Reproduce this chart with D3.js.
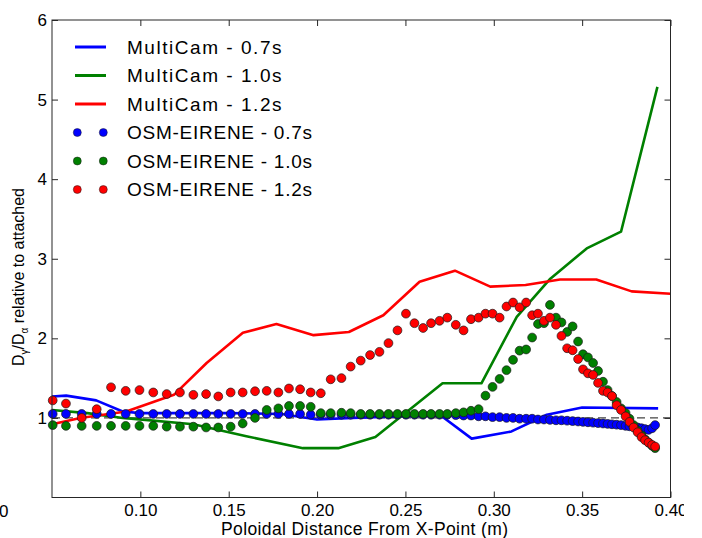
<!DOCTYPE html>
<html>
<head>
<meta charset="utf-8">
<script src="https://cdn.jsdelivr.net/npm/d3@7"></script>
<style>
  html, body { margin: 0; padding: 0; background: #fff; }
  svg { display: block; font-family: "Liberation Sans", Arial, Helvetica, sans-serif; }
</style>
</head>
<body>
<svg id="chart" width="702" height="538"></svg>
<script>
// ---------------- data ----------------
const xTicks = [0.10, 0.15, 0.20, 0.25, 0.30, 0.35, 0.40];
const yTicks = [1, 2, 3, 4, 5, 6];

const seriesNames = ["MultiCam - 0.7s", "MultiCam - 1.0s", "MultiCam - 1.2s",
                     "OSM-EIRENE - 0.7s", "OSM-EIRENE - 1.0s", "OSM-EIRENE - 1.2s"];

// MultiCam (lines)
const mc07X = [0.05, 0.058, 0.075, 0.09, 0.10, 0.15, 0.18, 0.20, 0.22, 0.25, 0.27, 0.2875, 0.31, 0.33, 0.35, 0.393];
const mc07Y = [1.27, 1.28, 1.22, 1.08, 1.06, 1.06, 1.05, 0.98, 1.00, 1.02, 1.03, 0.74, 0.83, 1.04, 1.13, 1.12];

const mc10X = [0.05, 0.07, 0.09, 0.13, 0.16, 0.192, 0.212, 0.233, 0.271, 0.293, 0.313, 0.332, 0.3526, 0.372, 0.3926];
const mc10Y = [1.10, 1.06, 1.00, 0.92, 0.77, 0.62, 0.62, 0.76, 1.435, 1.435, 2.27, 2.75, 3.13, 3.34, 5.16];

const mc12X = [0.05, 0.066, 0.092, 0.119, 0.1375, 0.158, 0.177, 0.198, 0.218, 0.2375, 0.258, 0.278, 0.298, 0.318, 0.3375, 0.358, 0.378, 0.40];
const mc12Y = [0.92, 1.00, 1.08, 1.29, 1.69, 2.07, 2.18, 2.04, 2.08, 2.29, 2.71, 2.85, 2.65, 2.67, 2.74, 2.74, 2.59, 2.56];

// OSM-EIRENE (markers), shared x grid
const osmX = [0.0504,0.0579,0.0668,0.0753,0.0834,0.0917,0.0995,0.1073,0.1149,0.1224,
              0.1300,0.1372,0.1441,0.1511,0.1579,0.1649,0.1715,0.1781,0.1841,0.1904,
              0.1964,0.2021,0.2077,0.2138,0.2190,0.2247,0.2300,0.2353,0.2404,0.2455,
              0.2503,0.2551,0.2600,0.2645,0.2693,0.2737,0.2785,0.2829,0.2871,0.2914,
              0.2953,0.2993,0.3033,0.3072,0.3109,0.3146,0.3183,0.3217,0.3250,0.3284,
              0.3318,0.3352,0.3383,0.3415,0.3446,0.3477,0.3505,0.3533,0.3562,0.3590,
              0.3618,0.3644,0.3669,0.3695,0.3720,0.3746,0.3768,0.3791,0.3814,0.3836,
              0.3856,0.3876,0.3896,0.3913];

const osm07Y = [1.05,1.05,1.05,1.05,1.05,1.05,1.05,1.05,1.05,1.05,
                1.05,1.05,1.05,1.05,1.05,1.05,1.05,1.05,1.05,1.05,
                1.04,1.04,1.04,1.04,1.04,1.04,1.04,1.04,1.04,1.04,
                1.04,1.04,1.04,1.04,1.04,1.04,1.035,1.03,1.03,1.02,
                1.02,1.01,1.01,1.00,1.00,0.99,0.99,0.99,0.98,0.98,
                0.975,0.97,0.97,0.965,0.96,0.955,0.95,0.945,0.94,0.935,
                0.93,0.925,0.92,0.915,0.91,0.90,0.895,0.89,0.88,0.87,
                0.86,0.85,0.87,0.91];

const osm10Y = [0.91,0.90,0.90,0.90,0.90,0.90,0.90,0.90,0.89,0.89,
                0.89,0.88,0.88,0.89,0.93,1.00,1.10,1.12,1.15,1.15,
                1.14,1.06,1.06,1.065,1.06,1.05,1.05,1.05,1.05,1.05,
                1.05,1.05,1.05,1.05,1.05,1.05,1.06,1.07,1.09,1.11,
                1.28,1.39,1.49,1.60,1.73,1.845,1.86,2.01,2.18,2.19,
                2.42,2.26,2.20,2.08,2.15,1.96,1.80,1.76,1.69,1.59,
                1.455,1.35,1.275,1.20,1.12,1.06,0.99,0.91,0.84,0.78,
                0.73,0.69,0.65,0.62];

const osm12Y = [1.22,1.18,1.00,1.11,1.385,1.34,1.35,1.32,1.30,1.32,
                1.29,1.30,1.27,1.32,1.32,1.335,1.34,1.32,1.37,1.36,
                1.32,1.31,1.485,1.50,1.645,1.72,1.79,1.83,1.94,2.10,
                2.31,2.19,2.13,2.19,2.22,2.26,2.17,2.10,2.24,2.26,
                2.31,2.31,2.26,2.40,2.45,2.39,2.45,2.29,2.31,2.22,
                2.26,2.17,2.03,1.875,1.85,1.74,1.61,1.56,1.54,1.44,
                1.34,1.32,1.275,1.16,1.10,1.02,0.95,0.88,0.82,0.76,
                0.72,0.69,0.66,0.64];

const refLevel = 1;

// ---------------- drawing ----------------
const colors = ["#0000ff", "#008000", "#ff0000"];
const svg = d3.select("#chart");
const L = 52, R = 670.5, T = 20, B = 497.5;

const x = d3.scaleLinear().domain([0.05, 0.40]).range([L, R]);
const y = d3.scaleLinear().domain([0, 6]).range([B, T]);

// clip for the cut-off right tick label
svg.append("defs").append("clipPath").attr("id", "pageclip")
  .append("rect").attr("x", 0).attr("y", 0).attr("width", 684).attr("height", 538);

const root = svg.append("g").attr("clip-path", "url(#pageclip)");

// reference dashed line
root.append("line")
  .attr("x1", x(0.05)).attr("x2", x(0.40))
  .attr("y1", y(refLevel)).attr("y2", y(refLevel))
  .attr("stroke", "#444").attr("stroke-width", 1.3)
  .attr("stroke-dasharray", "8,5");

// lines
const lineGen = d3.line().x(d => x(d[0])).y(d => y(d[1]));
const lineSets = [[mc07X, mc07Y], [mc10X, mc10Y], [mc12X, mc12Y]];
lineSets.forEach((s, i) => {
  root.append("path")
    .datum(d3.zip(s[0], s[1]))
    .attr("d", lineGen)
    .attr("fill", "none")
    .attr("stroke", colors[i])
    .attr("stroke-width", 2.6)
    .attr("stroke-linejoin", "round");
});

// markers
const dotSets = [osm07Y, osm10Y, osm12Y];
dotSets.forEach((ys, i) => {
  root.append("g").selectAll("circle")
    .data(d3.zip(osmX, ys))
    .join("circle")
    .attr("cx", d => x(d[0]))
    .attr("cy", d => y(d[1]))
    .attr("r", 4.4)
    .attr("fill", colors[i])
    .attr("stroke", "#1a1a1a")
    .attr("stroke-width", 0.7);
});

// axes
const axisColor = "#262626";
function styleAxis(g, showLabels) {
  g.select(".domain").remove();
  g.selectAll(".tick line").attr("stroke", axisColor).attr("stroke-width", 1);
  g.selectAll(".tick text")
    .attr("fill", "#000")
    .attr("font-size", 17)
    .attr("font-family", "'Liberation Sans', Arial, sans-serif");
  if (!showLabels) g.selectAll(".tick text").remove();
}

root.append("g").attr("transform", `translate(0,${B})`)
  .call(d3.axisBottom(x).tickValues(xTicks).tickFormat(d3.format(".2f"))
        .tickSizeInner(-6).tickSizeOuter(0).tickPadding(6))
  .call(g => styleAxis(g, true));

root.append("g").attr("transform", `translate(0,${T})`)
  .call(d3.axisTop(x).tickValues(xTicks).tickSizeInner(-6).tickSizeOuter(0))
  .call(g => styleAxis(g, false));

root.append("g").attr("transform", `translate(${L},0)`)
  .call(d3.axisLeft(y).tickValues(yTicks).tickFormat(d3.format("d"))
        .tickSizeInner(-6).tickSizeOuter(0).tickPadding(5))
  .call(g => styleAxis(g, true));

root.append("g").attr("transform", `translate(${R},0)`)
  .call(d3.axisRight(y).tickValues(yTicks).tickSizeInner(-6).tickSizeOuter(0))
  .call(g => styleAxis(g, false));

// frame
root.append("rect")
  .attr("x", L).attr("y", T).attr("width", R - L).attr("height", B - T)
  .attr("fill", "none").attr("stroke", axisColor).attr("stroke-width", 1);

// stray "0" label at the lower left
root.append("text").attr("x", -1).attr("y", 517)
  .attr("font-size", 17).attr("fill", "#000").text("0");

// axis titles
root.append("text")
  .attr("x", 364.5).attr("y", 535)
  .attr("text-anchor", "middle")
  .attr("font-size", 17.5).attr("fill", "#000")
  .attr("textLength", 287).attr("lengthAdjust", "spacing")
  .text("Poloidal Distance From X-Point (m)");

const yl = root.append("text")
  .attr("transform", "translate(24,277) rotate(-90)")
  .attr("text-anchor", "middle")
  .attr("font-size", 16).attr("fill", "#000");
yl.append("tspan").text("D");
yl.append("tspan").attr("font-size", 10).attr("dy", 4).text("γ");
yl.append("tspan").attr("dy", -4).text("/D");
yl.append("tspan").attr("font-size", 10).attr("dy", 4).text("α");
yl.append("tspan").attr("dy", -4).text(" relative to attached");

// legend
const legRow0 = 47, legStep = 28.5;
const leg = root.append("g");
seriesNames.forEach((name, i) => {
  const yy = legRow0 + i * legStep;
  const c = colors[i % 3];
  if (i < 3) {
    leg.append("line").attr("x1", 75).attr("x2", 106).attr("y1", yy).attr("y2", yy)
      .attr("stroke", c).attr("stroke-width", 3);
  } else {
    [77.3, 103.3].forEach(cx => {
      leg.append("circle").attr("cx", cx).attr("cy", yy).attr("r", 4)
        .attr("fill", c).attr("stroke", "#1a1a1a").attr("stroke-width", 0.5);
    });
  }
  leg.append("text")
    .attr("x", 127).attr("y", yy).attr("dy", "0.36em")
    .attr("font-size", 19).attr("fill", "#000")
    .attr("textLength", i < 3 ? 154.5 : 185).attr("lengthAdjust", "spacing")
    .text(name);
});
</script>
</body>
</html>
